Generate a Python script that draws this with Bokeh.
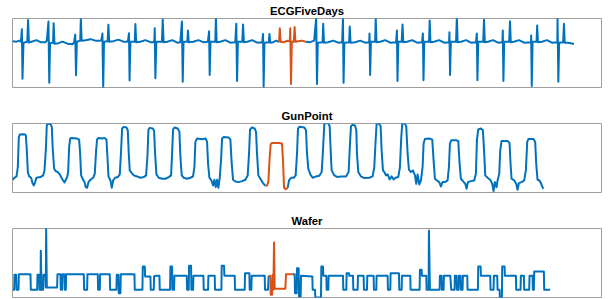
from bokeh.plotting import figure
from bokeh.layouts import column
from bokeh.models import Range1d, Title
from bokeh.embed import file_html
from bokeh.resources import INLINE

BLUE = "#0072BD"
ORANGE = "#D95319"

TITLES = ["ECGFiveDays", "GunPoint", "Wafer"]

# ---------------- ECGFiveDays (sample index, amplitude) ----------------
ecg_blue_a = [(0,0.05),(20,0.0),(35,0.1),(42,0.0),
(47,1.23),(50,-3.67),(55,-0.1),(74,0.0),(78,2.15),(82,-0.1),(95,0.0),(120,0.15),(140,-0.05),(165,-0.05),
(172,0.1),(180,2.0),(184,-4.07),(188,-0.15),(203,-0.1),(206,1.83),(210,-0.2),(230,-0.15),(250,0.0),(275,-0.2),(300,-0.25),
(308,-0.1),(314,0.7),(318,-3.33),(322,0.0),(339,0.1),(342,2.3),(346,0.1),(365,0.15),(390,0.25),(415,0.1),(440,0.1),
(445,0.15),(450,0.8),(454,-4.55),(458,0.0),(476,0.05),(480,1.67),(484,0.0),(505,0.05),(530,0.2),(555,0.0),(575,0.0),
(579,0.2),(583,0.83),(586,-3.85),(590,0.0),(612,0.0),(615,1.75),(619,-0.05),(640,0.0),(665,0.15),(690,-0.05),(705,-0.05),
(710,0.1),(712,1.33),(715,-3.63),(720,0.0),(748,0.0),(752,2.2),(756,-0.05),(775,0.0),(800,0.15),(825,-0.1),(840,-0.05),
(848,2.0),(852,-3.97),(856,0.0),(875,0.0),(878,1.1),(882,-0.05),(905,0.0),(930,0.15),(955,-0.05),(978,0.0),
(984,1.03),(987,-3.3),(991,0.0),(1015,0.0),(1018,2.37),(1022,-0.05),(1040,0.0),(1065,0.15),(1090,-0.1),(1115,-0.05),
(1120,1.77),(1124,-3.9),(1128,0.0),(1150,0.0),(1154,1.7),(1158,-0.05),(1175,0.0),(1200,0.15),(1225,-0.1),(1250,-0.05),
(1254,0.77),(1257,-4.5),(1261,-0.1),(1283,-0.05),(1286,0.77),(1290,-0.1),(1305,-0.05),(1320,0.1),(1334,-0.05)]

ecg_orange = [(1334,-0.05),(1338,1.33),(1342,0.0),(1360,-0.05),(1375,0.1),(1388,0.05),(1390,1.33),(1394,-4.2),
(1398,0.0),(1408,0.0),(1412,1.45),(1416,0.0),(1430,0.05),(1450,0.1),(1468,0.0)]

ecg_blue_b = [(1468,0.0),(1490,-0.05),(1510,0.1),(1520,2.37),(1524,-4.2),(1528,-0.1),(1552,-0.05),(1555,1.77),(1559,-0.1),(1580,-0.05),(1605,0.1),(1630,-0.1),(1650,-0.05),
(1654,2.27),(1657,-4.07),(1661,-0.1),(1685,-0.05),(1688,1.5),(1692,-0.1),(1715,-0.05),(1740,0.1),(1765,-0.1),(1785,-0.05),
(1787,0.8),(1790,-3.3),(1794,0.0),(1815,0.0),(1818,2.37),(1822,-0.05),(1840,0.0),(1865,0.15),(1890,-0.1),(1920,-0.05),
(1924,1.1),(1927,-3.9),(1931,0.0),(1948,0.0),(1952,1.7),(1956,-0.05),(1975,0.0),(2000,0.15),(2025,-0.1),(2050,-0.05),
(2054,0.8),(2057,-3.83),(2061,0.0),(2085,0.0),(2088,2.1),(2092,-0.05),(2110,0.0),(2135,0.15),(2160,-0.1),(2185,-0.05),
(2187,0.93),(2190,-3.3),(2194,0.0),(2220,0.0),(2224,2.4),(2228,-0.05),(2245,0.0),(2270,0.15),(2295,-0.1),(2320,-0.05),
(2324,0.8),(2327,-3.83),(2331,0.0),(2356,0.0),(2360,2.17),(2364,-0.05),(2380,0.0),(2405,0.15),(2430,-0.1),(2452,-0.05),
(2454,1.1),(2457,-3.9),(2461,0.0),(2486,0.0),(2490,2.03),(2494,-0.05),(2510,0.0),(2535,0.15),(2560,-0.1),(2595,-0.05),
(2596,0.6),(2599,-4.4),(2603,0.0),(2623,0.0),(2626,1.6),(2630,-0.05),(2650,0.0),(2675,0.15),(2700,-0.1),(2727,-0.05),
(2728,2.4),(2732,-3.97),(2736,-0.1),(2756,-0.05),(2760,1.77),(2764,-0.1),(2780,-0.1),(2795,-0.15),(2810,-0.23)]

# ---------------- GunPoint ----------------
gun_blue_a = [(0,0.38),(12,0.44),(24,0.48),(32,0.76),(38,1.66),(44,1.73),(68,1.74),(80,1.71),(86,1.26),(92,0.61),
(100,0.48),(112,0.44),(120,0.28),(128,0.21),(136,0.31),(144,0.44),(168,0.46),(184,0.51),(192,0.66),(200,1.26),
(206,2.01),(214,2.06),(228,2.04),(236,1.96),(242,1.26),(250,0.71),(260,0.64),(272,0.61),(284,0.54),(294,0.44),
(304,0.36),(312,0.30),(320,0.38),(328,0.46),(334,0.61),(340,1.36),(346,1.60),(354,1.63),(388,1.61),(400,1.58),
(406,1.16),(412,0.51),(424,0.38),(432,0.31),(440,0.16),(448,0.14),(456,0.31),(468,0.38),(484,0.44),(494,0.56),
(502,1.26),(508,1.59),(518,1.63),(538,1.61),(552,1.63),(564,1.58),(570,1.06),(576,0.48),(588,0.36),(596,0.14),
(604,0.36),(616,0.44),(632,0.46),(644,0.54),(652,1.26),(658,1.91),(668,1.96),(684,1.94),(692,1.86),(698,1.16),
(704,0.66),(716,0.58),(728,0.51),(748,0.48),(768,0.44),(788,0.46),(802,0.51),(810,1.06),(816,1.88),(824,1.93),
(842,1.91),(850,1.84),(856,1.16),(864,0.54),(878,0.44),(898,0.41),(918,0.41),(938,0.46),(952,0.51),(958,1.16),
(964,1.88),(972,1.94),(992,1.91),(1002,1.81),(1008,1.06),(1016,0.51),(1028,0.44),(1048,0.41),(1068,0.44),(1084,0.48),
(1092,0.76),(1098,1.51),(1108,1.61),(1138,1.59),(1160,1.61),(1168,1.51),(1174,0.86),(1182,0.44),(1194,0.36),(1204,0.21),
(1212,0.38),(1220,0.16),(1228,0.38),(1236,0.14),(1244,0.44),(1252,0.96),(1258,1.61),(1268,1.66),(1298,1.64),(1308,1.58),
(1316,0.86),(1324,0.38),(1338,0.33),(1358,0.31),(1378,0.34),(1398,0.38),(1412,0.51),(1420,1.16),(1426,1.88),(1436,1.94),
(1454,1.91),(1462,1.81),(1468,1.16),(1476,0.51),(1488,0.41),(1504,0.28),(1518,0.20)]

gun_orange = [(1518,0.20),(1528,0.21),(1536,0.31),(1544,1.06),(1550,1.44),(1558,1.48),(1598,1.48),(1618,1.46),
(1624,0.96),(1630,0.14),(1640,0.10),(1652,0.14)]

gun_blue_b = [(1652,0.14),(1660,0.36),(1672,0.44),(1688,0.44),(1700,0.51),(1708,1.16),(1714,1.91),(1722,1.96),
(1752,1.94),(1762,1.86),(1768,1.16),(1776,0.71),(1788,0.54),(1802,0.44),(1822,0.48),(1842,0.50),(1856,0.61),(1864,1.26),
(1872,2.04),(1882,2.08),(1896,2.06),(1904,1.98),(1910,1.26),(1916,0.66),(1932,0.51),(1952,0.46),(1972,0.48),(2002,0.48),
(2018,0.61),(2026,1.46),(2032,1.98),(2042,2.02),(2056,2.00),(2064,1.86),(2068,1.16),(2076,0.61),(2092,0.48),(2112,0.43),
(2142,0.44),(2162,0.48),(2172,0.76),(2180,1.56),(2186,2.06),(2200,2.06),(2210,1.98),(2216,1.26),(2224,0.66),(2232,0.61),
(2242,0.51),(2252,0.54),(2264,0.39),(2276,0.48),(2288,0.39),(2300,0.44),(2316,0.46),(2326,0.76),(2334,1.66),(2340,2.06),
(2356,2.06),(2364,1.96),(2372,1.16),(2380,0.68),(2392,0.61),(2404,0.66),(2416,0.51),(2424,0.26),(2432,0.54),(2442,0.24),
(2452,0.36),(2462,0.76),(2468,1.46),(2476,1.60),(2502,1.61),(2520,1.58),(2528,0.96),(2536,0.41),(2548,0.36),(2562,0.31),
(2572,0.18),(2582,0.31),(2596,0.31),(2612,0.36),(2620,0.76),(2626,1.46),(2634,1.56),(2662,1.56),(2676,1.54),(2684,0.86),
(2692,0.41),(2706,0.33),(2718,0.26),(2726,0.11),(2734,0.31),(2752,0.34),(2772,0.36),(2782,0.56),(2788,1.56),(2796,1.88),
(2812,1.91),(2824,1.86),(2832,1.16),(2838,0.51),(2852,0.44),(2868,0.38),(2880,0.26),(2888,0.04),(2896,0.31),(2906,0.16),
(2912,0.36),(2922,0.56),(2928,1.26),(2936,1.54),(2972,1.54),(2984,1.48),(2990,0.86),(2996,0.41),(3012,0.36),(3024,0.26),
(3032,0.08),(3040,0.28),(3056,0.31),(3072,0.36),(3082,0.66),(3090,1.51),(3098,1.60),(3128,1.60),(3138,1.51),(3144,0.86),
(3152,0.38),(3164,0.36),(3174,0.26),(3180,0.18),(3186,0.11)]

# ---------------- Wafer ----------------
waf_blue_a = [(2,0.77),(10,0.77),(12,2.27),(22,2.27),(24,0.77),(36,0.77),(38,2.33),(108,2.33),(110,0.77),(148,0.77),
(150,2.27),(160,2.27),(162,0.77),(168,0.77),(170,4.67),(174,0.77),(184,0.77),(186,2.27),(198,2.27),(200,1.0),
(202,6.9),(206,1.0),(268,1.0),(270,2.33),(288,2.33),(290,0.77),(298,0.77),(300,2.33),(312,2.33),(314,0.77),
(320,0.77),(322,2.33),(428,2.33),(430,0.77),(448,0.77),(450,2.33),(512,2.33),(514,0.77),(524,0.77),(526,2.33),
(584,2.33),(586,0.77),(624,0.77),(626,2.27),(636,2.27),(638,0.43),(648,0.43),(650,2.33),(732,2.33),(734,0.77),
(780,0.77),(782,3.1),(794,3.1),(796,2.1),(828,2.1),(830,0.77),(848,0.77),(850,2.1),
(858,2.17),(882,2.17),(884,0.77),(946,0.77),(948,3.1),(958,3.1),(960,0.77),(970,0.77),(972,2.17),(1046,2.17),
(1048,0.77),(1058,0.77),(1060,3.17),(1072,3.17),(1074,0.77),(1084,0.77),(1086,2.17),(1146,2.17),(1148,0.77),(1174,0.77),
(1176,2.17),(1214,2.17),(1216,0.77),(1254,0.77),(1256,3.17),(1270,3.17),(1272,2.17),(1334,2.17),(1336,0.77),(1394,0.77),
(1396,2.43),(1422,2.43),(1424,0.77),(1434,0.77),(1436,2.17),(1514,2.17),(1516,0.77),(1534,0.77),(1538,2.17)]

waf_orange = [(1538,2.17),(1548,2.17),(1550,0.27),(1558,0.27),(1562,2.27),(1566,0.77),(1570,5.5),(1574,0.87),
(1638,0.87),(1642,2.33),(1682,2.33)]

waf_blue_b = [(1682,2.33),(1694,2.33),(1696,0.43),(1706,0.43),(1708,2.93),(1718,2.93),(1720,0.1),(1730,0.1),(1732,2.17),
(1800,2.1),(1802,0.77),(1816,0.77),(1818,0.0),(1852,0.0),(1854,3.1),(1864,3.1),(1866,2.17),(1884,2.17),(1886,0.77),
(1896,0.77),(1898,2.17),(1984,2.17),(1986,0.77),(2004,0.77),(2006,2.43),(2020,2.43),(2022,2.17),(2044,2.17),(2046,0.77),
(2072,0.77),(2074,2.17),(2108,2.17),(2110,0.77),(2128,0.77),(2130,2.17),(2168,2.17),(2170,0.77),(2184,0.77),(2186,2.17),
(2252,2.17),(2254,0.77),(2268,0.77),(2270,2.43),(2320,2.43),(2322,0.77),(2336,0.77),(2338,2.17),(2388,2.17),(2390,0.77),
(2444,0.77),(2446,2.77),(2456,2.77),(2458,2.17),(2484,2.17),(2486,0.77),(2498,0.77),(2500,6.7),(2506,0.77),(2564,0.77),
(2566,2.17),(2576,2.17),(2578,0.77),(2588,0.77),(2590,2.17),(2628,2.17),(2634,0.77),(2654,0.77),(2656,2.17),(2666,2.17),
(2668,0.77),(2678,0.77),(2680,2.17),(2690,2.17),(2692,0.77),(2702,0.77),(2704,2.17),(2730,2.17),(2732,0.77),(2794,0.77),
(2796,3.1),(2810,3.1),(2812,2.17),(2868,2.17),(2870,0.77),(2888,0.77),(2890,2.17),(2910,2.17),(2912,0.77),(2924,0.77),
(2926,0.0),(2938,0.0),(2940,3.1),(2954,3.1),(2956,2.17),(3022,2.17),(3024,0.77),(3050,0.77),(3052,2.17),(3070,2.17),
(3072,0.77),(3102,0.77),(3104,2.17),(3122,2.17),(3124,0.77),(3130,0.77),(3132,2.6),(3190,2.6),(3192,0.77),(3228,0.77)]

X_LIMITS = [(0, 2948), (0, 3536), (0, 3536)]
Y_LIMITS = [(-4.55, 2.3), (0, 2.06), (0, 6.9)]


def make_panel(title, blue_parts, orange_part, xlim, ylim, border_bottom):
    p = figure(width=608, height=18 + 69 + border_bottom,
               frame_width=589, frame_height=69,
               x_range=Range1d(*xlim), y_range=Range1d(*ylim),
               x_axis_type=None, y_axis_type=None,
               output_backend="svg", toolbar_location=None,
               min_border_left=12, min_border_right=7,
               min_border_top=18, min_border_bottom=border_bottom)
    p.grid.visible = False
    p.outline_line_color = "#9e9e9e"
    p.outline_line_width = 1
    p.background_fill_color = "white"
    p.border_fill_color = "white"
    for part in blue_parts:
        p.line([a for a, b in part], [b for a, b in part], line_color=BLUE,
               line_width=2, line_join="round")
    p.line([a for a, b in orange_part], [b for a, b in orange_part], line_color=ORANGE,
           line_width=2, line_join="round")
    p.title = Title(text=title, align="center", text_font="Liberation Sans",
                    text_font_style="bold", text_font_size="11.3px",
                    text_color="black", standoff=4)
    return p


p1 = make_panel(TITLES[0], [ecg_blue_a, ecg_blue_b], ecg_orange, X_LIMITS[0], Y_LIMITS[0], 18)
p2 = make_panel(TITLES[1], [gun_blue_a, gun_blue_b], gun_orange, X_LIMITS[1], Y_LIMITS[1], 18)
p3 = make_panel(TITLES[2], [waf_blue_a, waf_blue_b], waf_orange, X_LIMITS[2], Y_LIMITS[2], 2)

layout = column(p1, p2, p3, spacing=0)

open("out.html", "w").write(file_html(layout, INLINE))
